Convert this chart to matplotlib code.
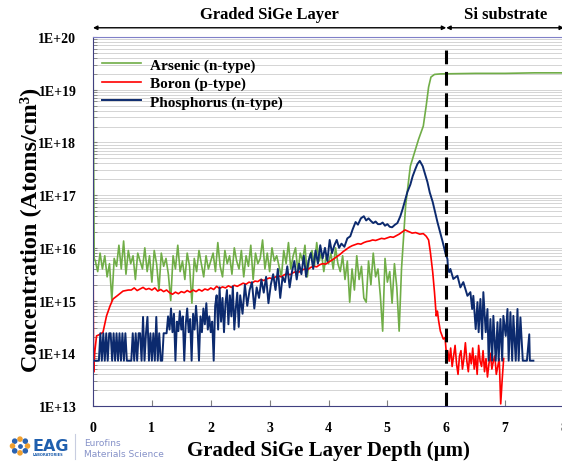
import numpy as np
import matplotlib
matplotlib.use("Agg")
import matplotlib.pyplot as plt
from matplotlib.lines import Line2D
from matplotlib.ticker import LogLocator, FuncFormatter, NullFormatter

# depth in um, concentration as log10(atoms/cm3)
arsenic_head_x = [0.0, 0.02]
arsenic_head_log = [19.9, 15.8]
arsenic_noise_x = np.linspace(0.04, 5.24, 131)
arsenic_noise_log = [
    15.75, 15.55, 15.90, 15.60, 15.85, 15.45, 15.70, 15.00, 15.80, 15.65,
    16.05, 15.60, 16.13, 15.50, 15.95, 15.70, 15.85, 15.40, 15.90, 15.75,
    15.60, 16.00, 15.55, 15.85, 15.35, 15.95, 15.70, 15.20, 15.90, 15.65,
    15.80, 15.50, 15.00, 15.85, 15.60, 16.05, 15.55, 15.75, 15.40, 15.90,
    15.65, 14.95, 15.80, 15.55, 15.95, 15.70, 15.45, 15.85, 15.60, 15.75,
    15.90, 15.55, 16.10, 15.65, 15.45, 15.95, 15.70, 15.85, 15.50, 16.00,
    15.75, 15.60, 15.95, 15.45, 15.85, 15.65, 16.05, 15.40, 15.90, 15.70,
    15.80, 16.15, 15.60, 15.90, 15.55, 16.00, 15.75, 15.85, 15.65, 15.45,
    15.95, 15.70, 16.10, 15.60, 15.85, 16.00, 15.55, 15.90, 15.75, 16.05,
    15.45, 15.85, 15.95, 15.65, 16.10, 15.75, 15.90, 15.55, 15.85, 15.70,
    15.90, 15.60, 16.00, 15.70, 15.55, 15.85, 15.40, 15.75, 14.97, 15.60,
    15.20, 15.85, 15.40, 15.65, 15.05, 14.97, 15.75, 15.30, 15.90, 15.45,
    15.60, 15.10, 14.42, 15.80, 15.35, 15.55, 14.95, 15.70, 15.25, 14.42,
    15.60]
arsenic_tail_x = [5.31, 5.39, 5.53, 5.61, 5.66, 5.70, 5.74, 5.80, 5.90,
                  6.5, 7.0, 7.5, 8.0]
arsenic_tail_log = [16.8, 17.55, 18.06, 18.31, 18.70, 19.05, 19.24, 19.29,
                    19.30, 19.31, 19.31, 19.32, 19.32]

boron_head_x = [0.0, 0.01, 0.03, 0.06, 0.12, 0.17, 0.23, 0.29, 0.34, 0.41,
                0.51, 0.60]
boron_head_log = [16.3, 13.64, 14.02, 14.33, 14.36, 14.40, 14.71, 14.90,
                  15.03, 15.09, 15.18, 15.20]
boron_body_x = np.linspace(0.65, 5.30, 94)
boron_body_log = [
    15.20, 15.24, 15.19, 15.22, 15.25, 15.21, 15.23, 15.20, 15.24, 15.18,
    15.21, 15.17, 15.20, 15.15, 15.12, 15.16, 15.13, 15.17, 15.15, 15.19,
    15.16, 15.20, 15.17, 15.21, 15.18, 15.22, 15.20, 15.24, 15.21, 15.27,
    15.23, 15.26, 15.24, 15.28, 15.25, 15.29, 15.27, 15.30, 15.33, 15.31,
    15.35, 15.33, 15.37, 15.36, 15.40, 15.38, 15.41, 15.43, 15.41, 15.45,
    15.47, 15.45, 15.49, 15.51, 15.49, 15.53, 15.55, 15.54, 15.58, 15.60,
    15.59, 15.63, 15.65, 15.64, 15.68, 15.70, 15.69, 15.73, 15.76, 15.80,
    15.84, 15.88, 15.93, 15.97, 16.01, 16.04, 16.06, 16.08, 16.07, 16.10,
    16.12, 16.13, 16.15, 16.14, 16.16, 16.18, 16.17, 16.19, 16.21, 16.20,
    16.23, 16.26, 16.30, 16.34]
boron_drop_x = [5.36, 5.42, 5.48, 5.55, 5.61, 5.66, 5.70, 5.73, 5.77, 5.80,
                5.83, 5.85, 5.87, 5.90, 5.95, 5.98, 6.00]
boron_drop_log = [16.31, 16.28, 16.29, 16.26, 16.27, 16.22, 16.15, 15.92,
                  15.54, 15.16, 14.71, 14.80, 14.62, 14.42, 14.27, 14.30, 14.02]
boron_sub_x = np.linspace(6.025, 6.975, 39)
boron_sub_log = [
    14.05, 13.85, 14.10, 13.75, 13.95, 14.15, 13.80, 13.60, 13.95, 14.05,
    13.70, 13.90, 14.20, 13.85, 13.65, 14.00, 13.80, 14.10, 13.70, 13.95,
    13.60, 14.15, 13.85, 13.75, 14.05, 13.65, 13.90, 13.55, 13.80, 14.00,
    13.70, 13.85, 13.95, 13.60, 13.75, 13.90, 13.04, 13.50, 13.90]

phos_a_x = np.linspace(0.0, 2.475, 100)
phos_a_log = [
    13.86, 13.86, 13.86, 13.86, 13.86, 14.38, 13.86, 14.38, 13.86, 14.38,
    13.86, 14.38, 14.38, 13.86, 14.38, 13.86, 14.38, 13.86, 14.38, 13.86,
    14.38, 13.86, 14.38, 13.86, 13.86, 13.86, 13.86, 14.38, 13.86, 14.38,
    13.86, 14.38, 14.38, 13.86, 14.69, 13.86, 14.38, 14.69, 13.86, 14.38,
    13.86, 14.38, 13.86, 14.69, 13.86, 14.38, 13.86, 13.86, 14.38, 14.38,
    14.38, 14.70, 14.45, 14.85, 14.40, 14.75, 13.86, 14.60, 14.42, 14.80,
    14.45, 14.70, 13.86, 14.55, 14.85, 14.40, 14.65, 13.86, 14.75, 14.45,
    14.90, 14.50, 13.86, 14.70, 14.40, 14.85, 14.55, 14.95, 14.45, 14.70,
    14.40, 14.60, 13.86, 14.90, 15.10, 14.45, 15.25, 14.60, 15.05, 14.40,
    14.95, 15.20, 14.55, 15.10, 14.70, 15.27, 14.45, 14.85, 15.15, 14.50]
phos_b_x = np.linspace(2.50, 4.18, 43)
phos_b_log = [
    15.10, 14.75, 15.30, 14.90, 15.20, 15.35, 14.85, 15.25, 15.05, 15.40,
    15.15, 15.45, 14.95, 15.30, 15.50, 15.20, 15.60, 15.05, 15.45, 15.35,
    15.65, 15.25, 15.55, 15.75, 15.40, 15.70, 15.50, 15.85, 15.45, 15.75,
    15.90, 15.60, 15.95, 15.70, 16.05, 15.80, 16.00, 15.75, 16.15, 15.90,
    16.05, 16.15, 16.00]
phos_c_x = [4.22, 4.27, 4.32, 4.37, 4.41, 4.46, 4.50, 4.55, 4.60, 4.64,
            4.68, 4.72, 4.76, 4.80, 4.84, 4.88, 4.92, 4.96, 5.00, 5.04,
            5.08, 5.13, 5.17, 5.22, 5.26, 5.30, 5.34, 5.39, 5.43, 5.47,
            5.51, 5.55, 5.60, 5.64, 5.68, 5.72, 5.77, 5.81, 5.85, 5.90,
            5.94, 5.99, 6.02, 6.03, 6.05]
phos_c_log = [16.08, 16.02, 16.18, 16.22, 16.35, 16.49, 16.44, 16.56, 16.60, 16.52,
              16.56, 16.51, 16.47, 16.50, 16.45, 16.45, 16.48, 16.42, 16.45, 16.40,
              16.39, 16.44, 16.47, 16.60, 16.74, 16.90, 17.06, 17.20, 17.36, 17.48,
              17.59, 17.65, 17.55, 17.40, 17.25, 17.05, 16.87, 16.68, 16.49, 16.28,
              16.11, 15.88, 15.79, 15.60, 15.54]
phos_d_x = [6.07, 6.12, 6.19, 6.24, 6.29, 6.36, 6.41, 6.44, 6.46, 6.50,
            6.53, 6.55, 6.58, 6.61, 6.63, 6.67, 6.70, 6.72, 6.75, 6.78,
            6.80, 6.84, 6.87, 6.89, 6.92, 6.95, 6.97, 7.01, 7.04, 7.06,
            7.09, 7.12, 7.14, 7.18, 7.21, 7.23, 7.26, 7.30, 7.37, 7.41,
            7.42, 7.48]
phos_d_log = [15.60, 15.41, 15.47, 15.25, 15.35, 15.09, 15.16, 14.84, 15.09, 14.46,
              14.97, 14.40, 15.03, 14.27, 15.16, 14.40, 14.84, 13.86, 14.65, 13.86,
              14.71, 13.86, 14.59, 13.86, 14.65, 13.86, 14.71, 14.33, 14.84, 13.86,
              14.78, 13.86, 14.71, 13.86, 14.84, 13.86, 14.68, 13.86, 13.86, 14.36,
              13.86, 13.86]

regions = ["Graded SiGe Layer", "Si substrate"]
region_edges = [0, 6, 8]

SERIF = "Liberation Serif"

arsenic_x = np.concatenate([arsenic_head_x, arsenic_noise_x, arsenic_tail_x])
arsenic_y = 10 ** np.concatenate([arsenic_head_log, arsenic_noise_log, arsenic_tail_log])
boron_x = np.concatenate([boron_head_x, boron_body_x, boron_drop_x, boron_sub_x])
boron_y = 10 ** np.concatenate([boron_head_log, boron_body_log, boron_drop_log, boron_sub_log])
phos_x = np.concatenate([phos_a_x, phos_b_x, phos_c_x, phos_d_x])
phos_y = 10 ** np.concatenate([phos_a_log, phos_b_log, phos_c_log, phos_d_log])

fig = plt.figure(figsize=(5.62, 4.64), dpi=100)
ax = fig.add_axes([93 / 562, 57 / 464, 471 / 562, 369 / 464])

ax.plot(arsenic_x, arsenic_y, color="#70ad47", lw=1.2, label="Arsenic (n-type)")
ax.plot(boron_x, boron_y, color="#ff0000", lw=1.2, label="Boron (p-type)")
ax.plot(phos_x, phos_y, color="#0c2a6e", lw=1.4, label="Phosphorus (n-type)")

ax.axvline(region_edges[1], ymin=0, ymax=0.975, color="black", lw=2.2,
           dashes=(4.5, 2.5))

ax.set_yscale("log")
ax.set_ylim(1e13, 1e20)
ax.set_xlim(0, 8)
ax.yaxis.set_major_locator(LogLocator(base=10, numticks=10))
ax.yaxis.set_minor_locator(LogLocator(base=10, subs=np.arange(2, 10), numticks=100))
ax.yaxis.set_major_formatter(FuncFormatter(lambda v, p: f"1E+{int(round(np.log10(v)))}"))
ax.yaxis.set_minor_formatter(NullFormatter())
ax.set_xticks(range(9))
ax.grid(which="both", axis="y", color="#d4d4d4", lw=0.7)
ax.set_axisbelow(True)

for lab in ax.get_xticklabels() + ax.get_yticklabels():
    lab.set_family(SERIF)
    lab.set_fontweight("bold")
    lab.set_fontsize(10)
ax.tick_params(axis="x", direction="in", length=4, color="#808080", pad=11)
ax.tick_params(axis="y", which="both", direction="in", length=3, color="#808080", pad=12)

ax.spines["right"].set_visible(False)
ax.spines["top"].set_color("#8080c8")
ax.spines["left"].set_color("#404080")
ax.spines["bottom"].set_color("#404080")

ax.set_xlabel("Graded SiGe Layer Depth (\u00b5m)", family=SERIF, fontweight="bold",
              fontsize=15, labelpad=4)
ax.set_ylabel("Concentration (Atoms/cm\u00b3)", family=SERIF, fontweight="bold",
              fontsize=17.5)
ax.yaxis.set_label_coords(-0.110, 0.48)

leg = ax.legend(loc="upper left", bbox_to_anchor=(-0.011, 0.98), frameon=False,
                prop={"family": SERIF, "weight": "bold", "size": 11},
                handlelength=2.6, handletextpad=0.55, labelspacing=0.3)

# region arrows and names above the plot
for i, name in enumerate(regions):
    x0, x1 = region_edges[i], region_edges[i + 1]
    ax.annotate("", xy=(x0, 1.025), xytext=(x1, 1.025), xycoords=("data", "axes fraction"),
                arrowprops=dict(arrowstyle="<|-|>", color="black", lw=1.0,
                                mutation_scale=6, shrinkA=0, shrinkB=0),
                annotation_clip=False)
    ax.text((x0 + x1) / 2, 1.04, name, transform=ax.get_xaxis_transform(),
            ha="center", va="bottom", family=SERIF, fontweight="bold", fontsize=12)

# logo in the bottom-left corner
icon = fig.add_axes([8 / 562, 6 / 464, 24 / 562, 22 / 464])
ang = np.linspace(0, 2 * np.pi, 9)[:-1]
icon.scatter(np.cos(ang), np.sin(ang), s=9,
             c=["#f0a030", "#2a62b0", "#f0a030", "#2a62b0"] * 2)
icon.scatter([0], [0], s=6, c="#2a62b0")
icon.set_xlim(-1.6, 1.6)
icon.set_ylim(-1.6, 1.6)
icon.axis("off")
fig.text(33 / 562, 12.5 / 464, "EAG", color="#1f5fae", fontsize=11.5, fontweight="bold",
         family="DejaVu Sans", va="baseline")
fig.text(33 / 562, 8.5 / 464, "LABORATORIES", color="#1f5fae", fontsize=2.6,
         fontweight="bold", family="DejaVu Sans", va="center")
fig.add_artist(Line2D([75 / 562, 75 / 562], [4 / 464, 29 / 464], color="#c8cde0", lw=0.8))
fig.text(84 / 562, 20 / 464, "Eurofins", color="#8591c8", fontsize=6.5,
         family="DejaVu Sans", va="center")
fig.text(84 / 562, 9.5 / 464, "Materials Science", color="#8591c8", fontsize=6.5,
         family="DejaVu Sans", va="center")

fig.savefig("out.png", dpi=100)
